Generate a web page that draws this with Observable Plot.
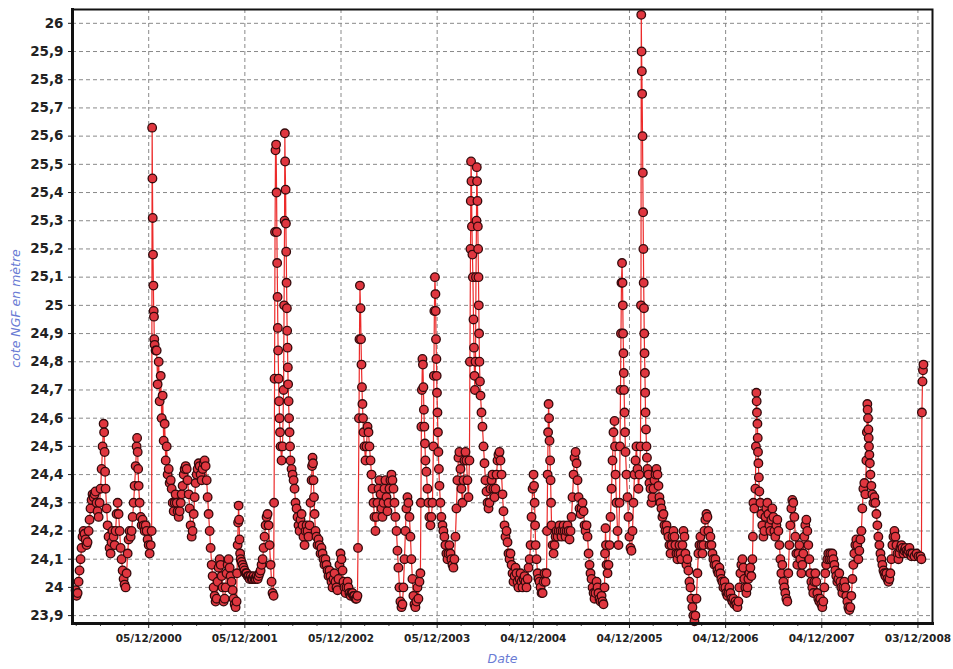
<!DOCTYPE html>
<html>
<head>
<meta charset="utf-8">
<script src="https://cdn.jsdelivr.net/npm/d3@7"></script>
<script src="https://cdn.jsdelivr.net/npm/@observablehq/plot@0.6"></script>
<style>
  html, body { margin: 0; padding: 0; background: #ffffff; }
  #chart svg { display: block; }
</style>
</head>
<body>
<div id="chart"></div>
<script>
// Water level (cote NGF, m): [fraction of year, level]
const y2000 = [[.168,23.99],[.178,23.97],[.189,23.98],[.199,24.02],[.209,24.06],[.220,24.1],[.230,24.14],[.240,24.18],[.251,24.2],[.261,24.19],[.272,24.17],[.282,24.15],[.292,24.16],[.303,24.2],[.313,24.24],[.323,24.28],[.334,24.31],[.344,24.33],[.355,24.32],[.365,24.33],[.375,24.34],[.386,24.3],[.396,24.27],[.407,24.25],[.417,24.3],[.427,24.35],[.438,24.42],[.448,24.5],[.459,24.58],[.464,24.55],[.469,24.48],[.474,24.41],[.479,24.35],[.490,24.28],[.500,24.22],[.510,24.18],[.521,24.14],[.531,24.12],[.541,24.16],[.552,24.2],[.562,24.18],[.573,24.15],[.583,24.2],[.593,24.26],[.604,24.3],[.614,24.26],[.625,24.2],[.635,24.14],[.645,24.1],[.656,24.06],[.666,24.03],[.676,24.01],[.687,24.0],[.697,24.05],[.708,24.12],[.718,24.17],[.728,24.2],[.739,24.18],[.749,24.2],[.760,24.25],[.770,24.3],[.780,24.36],[.791,24.43],[.801,24.5],[.806,24.53],[.812,24.48],[.817,24.42],[.822,24.36],[.832,24.3],[.843,24.25],[.853,24.22],[.863,24.24],[.874,24.22],[.884,24.2],[.895,24.22],[.905,24.2],[.915,24.17],[.926,24.15],[.936,24.12],[.947,24.15],[.957,24.2],[.962,25.63],[.965,25.45],[.968,25.31],[.971,25.18],[.975,25.07],[.978,24.98],[.981,24.96],[.984,24.88],[.988,24.86],[.998,24.84]];
const y2001 = [[.009,24.84],[.019,24.72],[.030,24.8],[.040,24.66],[.051,24.75],[.061,24.6],[.071,24.68],[.082,24.52],[.092,24.58],[.103,24.45],[.113,24.5],[.123,24.4],[.134,24.42],[.144,24.37],[.155,24.38],[.165,24.35],[.175,24.3],[.186,24.27],[.196,24.3],[.206,24.33],[.217,24.3],[.227,24.27],[.238,24.25],[.248,24.27],[.259,24.3],[.269,24.33],[.279,24.36],[.290,24.4],[.300,24.42],[.311,24.43],[.321,24.42],[.331,24.38],[.342,24.33],[.352,24.28],[.362,24.22],[.373,24.18],[.383,24.2],[.394,24.26],[.404,24.32],[.414,24.37],[.425,24.4],[.435,24.42],[.446,24.44],[.456,24.43],[.466,24.4],[.477,24.38],[.487,24.42],[.498,24.44],[.508,24.45],[.518,24.43],[.529,24.38],[.539,24.32],[.549,24.26],[.560,24.2],[.570,24.14],[.581,24.08],[.591,24.04],[.601,24.0],[.612,23.97],[.622,23.95],[.633,23.96],[.643,24.02],[.653,24.07],[.664,24.1],[.674,24.08],[.685,24.04],[.695,24.0],[.705,23.95],[.716,23.96],[.726,24.0],[.736,24.05],[.747,24.08],[.757,24.1],[.768,24.07],[.778,24.04],[.788,24.02],[.799,23.99],[.809,23.96],[.820,23.94],[.830,23.93],[.840,23.95],[.845,24.05],[.851,24.15],[.856,24.23],[.861,24.29],[.866,24.24],[.871,24.17],[.877,24.12],[.882,24.1],[.892,24.09],[.903,24.08],[.913,24.07],[.923,24.06],[.934,24.05],[.944,24.05],[.955,24.04],[.965,24.04],[.975,24.03],[.986,24.04],[.996,24.03]];
const y2002 = [[.007,24.03],[.017,24.04],[.027,24.03],[.038,24.03],[.048,24.04],[.059,24.03],[.069,24.04],[.079,24.05],[.090,24.06],[.100,24.08],[.111,24.1],[.121,24.14],[.131,24.18],[.142,24.22],[.152,24.25],[.162,24.26],[.173,24.22],[.183,24.15],[.194,24.08],[.204,24.02],[.214,23.98],[.225,23.97],[.230,24.3],[.235,24.74],[.240,25.26],[.245,25.55],[.251,25.57],[.256,25.4],[.259,25.26],[.262,25.15],[.266,25.03],[.269,24.92],[.272,24.84],[.277,24.74],[.282,24.66],[.287,24.6],[.292,24.55],[.298,24.5],[.308,24.45],[.318,24.5],[.329,24.7],[.334,25.0],[.339,25.3],[.342,25.61],[.345,25.51],[.350,25.41],[.353,25.29],[.356,25.19],[.360,25.08],[.363,24.99],[.366,24.91],[.370,24.85],[.373,24.78],[.376,24.72],[.381,24.66],[.386,24.6],[.391,24.55],[.396,24.5],[.401,24.45],[.412,24.42],[.422,24.4],[.433,24.38],[.443,24.35],[.453,24.3],[.464,24.28],[.474,24.25],[.484,24.22],[.495,24.2],[.505,24.24],[.516,24.26],[.526,24.22],[.536,24.18],[.547,24.15],[.557,24.2],[.568,24.22],[.578,24.2],[.588,24.18],[.599,24.22],[.609,24.3],[.620,24.38],[.625,24.43],[.630,24.46],[.635,24.44],[.640,24.38],[.645,24.32],[.651,24.26],[.661,24.2],[.671,24.18],[.682,24.15],[.692,24.17],[.702,24.15],[.713,24.12],[.723,24.14],[.734,24.12],[.744,24.1],[.754,24.08],[.765,24.1],[.775,24.08],[.786,24.06],[.796,24.04],[.806,24.06],[.817,24.04],[.827,24.02],[.838,24.0],[.848,24.03],[.858,24.05],[.869,24.02],[.879,24.0],[.890,23.99],[.900,24.03],[.910,24.08],[.921,24.12],[.931,24.1],[.942,24.06],[.952,24.02],[.962,24.0],[.973,23.98],[.983,24.0],[.994,24.02]];
const y2003 = [[.004,24.0],[.014,23.98],[.025,23.97],[.035,23.98],[.046,23.98],[.056,23.97],[.066,23.97],[.077,23.96],[.087,23.96],[.097,23.97],[.103,24.14],[.113,24.6],[.118,24.88],[.123,25.07],[.129,24.99],[.134,24.88],[.139,24.79],[.144,24.71],[.149,24.65],[.155,24.6],[.160,24.55],[.170,24.5],[.181,24.45],[.191,24.5],[.202,24.57],[.212,24.55],[.222,24.5],[.233,24.45],[.243,24.4],[.253,24.35],[.264,24.3],[.274,24.25],[.284,24.2],[.295,24.25],[.305,24.3],[.316,24.35],[.326,24.38],[.337,24.33],[.347,24.28],[.357,24.25],[.368,24.3],[.378,24.35],[.388,24.38],[.399,24.32],[.409,24.27],[.420,24.3],[.430,24.35],[.440,24.38],[.451,24.4],[.461,24.38],[.472,24.35],[.482,24.3],[.492,24.25],[.503,24.2],[.513,24.13],[.523,24.07],[.534,24.0],[.544,23.95],[.555,23.93],[.565,23.94],[.575,24.0],[.586,24.1],[.596,24.2],[.606,24.28],[.617,24.32],[.627,24.3],[.638,24.25],[.648,24.18],[.658,24.1],[.669,24.03],[.679,23.97],[.690,23.94],[.700,23.93],[.710,23.95],[.721,24.0],[.731,23.96],[.742,24.02],[.752,24.05],[.757,24.3],[.762,24.57],[.767,24.7],[.773,24.81],[.778,24.79],[.783,24.71],[.788,24.63],[.793,24.57],[.799,24.51],[.804,24.45],[.814,24.41],[.825,24.35],[.835,24.3],[.845,24.25],[.856,24.22],[.866,24.25],[.877,24.3],[.887,24.5],[.892,24.75],[.897,24.98],[.903,25.1],[.908,25.04],[.911,24.98],[.914,24.88],[.918,24.81],[.921,24.75],[.924,24.69],[.929,24.62],[.934,24.55],[.939,24.48],[.944,24.42],[.950,24.36],[.960,24.3],[.970,24.25],[.981,24.22],[.991,24.2]];
const y2004 = [[.001,24.18],[.012,24.15],[.022,24.12],[.033,24.1],[.043,24.12],[.053,24.15],[.064,24.12],[.074,24.1],[.085,24.08],[.095,24.07],[.105,24.1],[.116,24.18],[.126,24.28],[.136,24.38],[.147,24.46],[.157,24.48],[.168,24.42],[.178,24.35],[.188,24.3],[.199,24.38],[.209,24.45],[.220,24.48],[.230,24.45],[.240,24.38],[.251,24.32],[.261,24.45],[.266,24.8],[.272,25.2],[.275,25.37],[.278,25.51],[.282,25.44],[.287,25.28],[.292,25.18],[.297,25.1],[.303,24.95],[.308,24.85],[.313,24.75],[.318,24.7],[.324,24.8],[.329,25.1],[.334,25.3],[.337,25.49],[.340,25.44],[.344,25.37],[.348,25.28],[.351,25.2],[.355,25.1],[.358,25.0],[.361,24.9],[.365,24.8],[.370,24.73],[.376,24.68],[.386,24.62],[.396,24.57],[.407,24.5],[.417,24.44],[.427,24.38],[.438,24.34],[.448,24.3],[.459,24.28],[.469,24.3],[.479,24.35],[.490,24.38],[.500,24.4],[.510,24.35],[.521,24.32],[.531,24.35],[.542,24.4],[.552,24.45],[.562,24.47],[.573,24.48],[.583,24.45],[.594,24.4],[.604,24.33],[.614,24.27],[.625,24.22],[.635,24.18],[.646,24.2],[.656,24.16],[.666,24.12],[.677,24.1],[.687,24.12],[.698,24.08],[.708,24.05],[.718,24.02],[.729,24.04],[.739,24.07],[.749,24.05],[.760,24.02],[.770,24.0],[.781,24.03],[.791,24.05],[.801,24.02],[.812,24.0],[.822,24.03],[.833,24.04],[.843,24.02],[.853,24.0],[.864,24.03],[.874,24.07],[.885,24.1],[.895,24.15],[.905,24.25],[.916,24.35],[.926,24.4],[.931,24.36],[.937,24.3],[.942,24.22],[.947,24.15],[.957,24.1],[.968,24.05],[.978,24.03],[.988,24.02],[.999,24.0]];
const y2005 = [[.009,23.98],[.020,23.98],[.030,24.02],[.040,24.05],[.051,24.02],[.061,24.05],[.066,24.2],[.072,24.4],[.077,24.55],[.082,24.65],[.087,24.6],[.092,24.52],[.098,24.45],[.103,24.38],[.108,24.3],[.113,24.22],[.124,24.15],[.134,24.12],[.144,24.15],[.155,24.18],[.165,24.2],[.176,24.18],[.186,24.2],[.196,24.22],[.207,24.2],[.217,24.18],[.228,24.2],[.238,24.22],[.248,24.2],[.259,24.18],[.269,24.2],[.279,24.22],[.290,24.2],[.300,24.17],[.311,24.2],[.321,24.25],[.331,24.32],[.342,24.4],[.352,24.46],[.363,24.48],[.373,24.44],[.383,24.38],[.394,24.32],[.404,24.28],[.415,24.26],[.425,24.28],[.435,24.3],[.446,24.27],[.456,24.22],[.466,24.2],[.477,24.22],[.487,24.18],[.498,24.12],[.508,24.08],[.518,24.05],[.529,24.03],[.539,24.0],[.550,23.98],[.560,23.96],[.570,23.98],[.581,24.02],[.591,24.0],[.601,23.98],[.612,23.96],[.622,23.95],[.633,23.97],[.643,23.95],[.653,23.94],[.664,24.0],[.669,24.12],[.674,24.21],[.679,24.15],[.685,24.08],[.695,24.05],[.705,24.08],[.716,24.15],[.726,24.25],[.737,24.35],[.747,24.45],[.757,24.55],[.768,24.59],[.773,24.5],[.778,24.4],[.788,24.3],[.799,24.2],[.809,24.15],[.820,24.3],[.825,24.5],[.830,24.7],[.835,24.9],[.840,25.08],[.846,25.15],[.851,25.08],[.854,25.0],[.857,24.9],[.861,24.83],[.864,24.76],[.867,24.7],[.872,24.62],[.877,24.55],[.882,24.48],[.892,24.4],[.903,24.32],[.913,24.25],[.923,24.18],[.934,24.14],[.944,24.13],[.955,24.2],[.965,24.3],[.975,24.4],[.986,24.45],[.996,24.5]];
const y2006 = [[.007,24.42],[.017,24.35],[.027,24.4],[.038,24.5],[.043,25.0],[.046,26.03],[.049,25.9],[.052,25.83],[.055,25.75],[.059,25.6],[.062,25.47],[.065,25.33],[.068,25.2],[.071,25.08],[.074,24.99],[.077,24.9],[.080,24.83],[.084,24.76],[.087,24.69],[.090,24.62],[.095,24.56],[.100,24.5],[.105,24.46],[.111,24.42],[.121,24.4],[.131,24.37],[.142,24.35],[.152,24.3],[.162,24.32],[.173,24.35],[.183,24.38],[.194,24.4],[.204,24.42],[.215,24.4],[.225,24.36],[.235,24.32],[.246,24.3],[.256,24.28],[.266,24.25],[.277,24.26],[.287,24.22],[.298,24.2],[.308,24.22],[.318,24.2],[.329,24.18],[.339,24.15],[.350,24.12],[.360,24.15],[.370,24.18],[.381,24.2],[.391,24.18],[.401,24.15],[.412,24.12],[.422,24.1],[.432,24.12],[.443,24.15],[.454,24.12],[.464,24.1],[.474,24.15],[.485,24.2],[.495,24.18],[.505,24.12],[.516,24.08],[.526,24.1],[.536,24.06],[.547,24.02],[.557,24.0],[.568,23.96],[.578,23.93],[.588,23.9],[.599,23.88],[.609,23.9],[.620,23.96],[.630,24.05],[.640,24.12],[.651,24.15],[.661,24.18],[.672,24.15],[.682,24.12],[.692,24.15],[.703,24.2],[.713,24.24],[.724,24.26],[.734,24.25],[.744,24.2],[.755,24.15],[.765,24.18],[.776,24.15],[.786,24.12],[.796,24.1],[.807,24.08],[.817,24.1],[.827,24.08],[.838,24.06],[.848,24.05],[.859,24.07],[.869,24.05],[.879,24.03],[.890,24.02],[.900,24.0],[.911,24.02],[.921,24.0],[.931,23.98],[.942,23.97],[.952,23.98],[.962,24.0],[.973,23.98],[.983,23.96],[.994,23.95]];
const y2007 = [[.004,23.96],[.014,23.94],[.025,23.95],[.035,23.94],[.046,23.93],[.056,23.95],[.066,24.0],[.077,24.05],[.087,24.08],[.098,24.1],[.108,24.07],[.118,24.03],[.129,24.0],[.139,23.98],[.150,24.0],[.160,24.03],[.170,24.05],[.181,24.07],[.191,24.04],[.202,24.1],[.207,24.18],[.212,24.3],[.222,24.28],[.233,24.35],[.238,24.5],[.243,24.69],[.246,24.66],[.249,24.62],[.254,24.58],[.257,24.53],[.260,24.48],[.264,24.44],[.269,24.39],[.274,24.34],[.285,24.3],[.295,24.26],[.305,24.22],[.316,24.18],[.326,24.2],[.337,24.25],[.347,24.28],[.357,24.3],[.368,24.26],[.378,24.22],[.389,24.2],[.399,24.24],[.409,24.28],[.420,24.25],[.430,24.2],[.440,24.18],[.451,24.22],[.461,24.24],[.472,24.2],[.482,24.15],[.493,24.1],[.503,24.05],[.513,24.08],[.524,24.02],[.534,24.0],[.544,23.98],[.555,23.96],[.565,23.95],[.575,24.05],[.586,24.15],[.596,24.22],[.607,24.28],[.617,24.31],[.627,24.3],[.638,24.25],[.648,24.18],[.659,24.12],[.669,24.08],[.679,24.12],[.690,24.15],[.700,24.1],[.711,24.05],[.721,24.08],[.731,24.12],[.742,24.18],[.752,24.22],[.763,24.24],[.773,24.2],[.783,24.15],[.794,24.1],[.804,24.05],[.815,24.02],[.825,24.0],[.835,23.98],[.846,24.02],[.856,24.05],[.866,24.02],[.877,23.98],[.887,23.96],[.898,23.95],[.908,23.96],[.918,23.94],[.929,23.93],[.939,23.95],[.950,24.0],[.960,24.05],[.970,24.08],[.981,24.1],[.991,24.12]];
const y2008 = [[.002,24.1],[.012,24.12],[.022,24.1],[.033,24.12],[.043,24.1],[.054,24.08],[.064,24.06],[.074,24.04],[.085,24.02],[.095,24.03],[.105,24.05],[.116,24.02],[.126,24.0],[.137,23.98],[.147,24.0],[.157,24.02],[.168,24.0],[.178,23.97],[.189,23.95],[.199,23.93],[.209,23.92],[.220,23.93],[.230,23.97],[.241,24.03],[.251,24.08],[.261,24.12],[.272,24.15],[.282,24.17],[.292,24.15],[.303,24.1],[.313,24.13],[.324,24.17],[.334,24.2],[.344,24.28],[.355,24.35],[.365,24.37],[.375,24.33],[.386,24.45],[.391,24.55],[.396,24.65],[.399,24.63],[.403,24.6],[.407,24.56],[.410,24.53],[.413,24.5],[.417,24.47],[.422,24.44],[.428,24.4],[.438,24.36],[.448,24.33],[.459,24.3],[.469,24.32],[.479,24.3],[.490,24.26],[.500,24.22],[.510,24.18],[.521,24.15],[.532,24.12],[.542,24.1],[.552,24.08],[.563,24.06],[.573,24.05],[.583,24.04],[.594,24.05],[.604,24.03],[.615,24.02],[.625,24.03],[.635,24.05],[.646,24.1],[.656,24.15],[.667,24.18],[.677,24.2],[.687,24.18],[.698,24.15],[.708,24.12],[.718,24.1],[.729,24.12],[.739,24.14],[.750,24.15],[.760,24.14],[.770,24.12],[.781,24.13],[.791,24.14],[.802,24.13],[.812,24.12],[.822,24.13],[.833,24.14],[.843,24.12],[.854,24.11],[.864,24.12],[.885,24.11],[.906,24.12],[.926,24.11],[.947,24.11],[.957,24.1],[.962,24.62],[.968,24.73],[.973,24.77],[.978,24.79]];

const years = [2000, 2001, 2002, 2003, 2004, 2005, 2006, 2007, 2008];
const yearSeries = [y2000, y2001, y2002, y2003, y2004, y2005, y2006, y2007, y2008];

const xTickDates = ["2000-12-05", "2001-12-05", "2002-12-05", "2003-12-05", "2004-12-04", "2005-12-04", "2006-12-04", "2007-12-04", "2008-12-03"];
const yTicks = [23.9, 24, 24.1, 24.2, 24.3, 24.4, 24.5, 24.6, 24.7, 24.8, 24.9, 25, 25.1, 25.2, 25.3, 25.4, 25.5, 25.6, 25.7, 25.8, 25.9, 26];
const xDomainYears = [2000.136, 2009.072];
const yDomain = [23.872, 26.049];
const yLabel = "cote NGF en mètre";
const xLabel = "Date";

function decYear(t) {
  const y = Math.floor(t);
  const a = Date.UTC(y, 0, 1), b = Date.UTC(y + 1, 0, 1);
  return new Date(a + (t - y) * (b - a));
}

const data = [];
years.forEach((yr, i) => {
  for (const [f, v] of yearSeries[i]) data.push({date: decYear(yr + f), level: v});
});

const xTicks = xTickDates.map(s => new Date(s + "T00:00:00Z"));
const xDomain = xDomainYears.map(decYear);
const minorTicks = [];
for (const d of [d3.utcMonth.offset(xTicks[0], -12), ...xTicks]) {
  for (const k of [3, 6, 9]) {
    const m = d3.utcMonth.offset(d, k);
    if (m >= xDomain[0] && m <= xDomain[1]) minorTicks.push(m);
  }
}
const fmtY = d => String(+d.toFixed(1)).replace(".", ",");
const fmtX = d3.utcFormat("%d/%m/%Y");

const chart = Plot.plot({
  width: 953,
  height: 669,
  marginLeft: 72,
  marginRight: 21,
  marginTop: 9,
  marginBottom: 46,
  style: {fontFamily: "'DejaVu Sans', Verdana, sans-serif", background: "#ffffff", color: "#222"},
  x: {type: "utc", domain: xDomain},
  y: {domain: yDomain},
  marks: [
    Plot.gridY(yTicks, {stroke: "#8a8a8a", strokeOpacity: 1, strokeDasharray: "4,3", strokeWidth: 1}),
    Plot.gridX(xTicks, {stroke: "#8a8a8a", strokeOpacity: 1, strokeDasharray: "4,3", strokeWidth: 1}),
    Plot.line(data, {x: "date", y: "level", stroke: "#ec2a2a", strokeWidth: 1.2}),
    Plot.dot(data, {x: "date", y: "level", r: 4.3, fill: "#e0363f", stroke: "#340a0c", strokeWidth: 1.3}),
    Plot.axisY(yTicks, {tickFormat: fmtY, tickSize: 4, tickPadding: 5, label: null, fontSize: 13.5, fontWeight: "bold", fill: "#222", stroke: "#222"}),
    Plot.axisX(xTicks, {tickFormat: fmtX, tickSize: 5, tickPadding: 6, label: null, fontSize: 10.5, fontWeight: "bold", fill: "#222", stroke: "#222"}),
    Plot.axisX(minorTicks, {tickFormat: () => "", tickSize: 3, label: null, stroke: "#444"}),
    Plot.frame({stroke: "#111", strokeWidth: 2}),
    Plot.frame({anchor: "left", stroke: "#111", strokeWidth: 3}),
    Plot.frame({anchor: "bottom", stroke: "#111", strokeWidth: 3}),
    Plot.text([yLabel], {frameAnchor: "left", textAnchor: "middle", dx: -57, dy: -8, rotate: -90, fill: "#6a7bd4", fontSize: 12.5, fontStyle: "italic"}),
    Plot.text([xLabel], {frameAnchor: "bottom", dy: 39, fill: "#6a7bd4", fontSize: 12.5, fontStyle: "italic"})
  ]
});
document.getElementById("chart").appendChild(chart);
</script>
</body>
</html>
